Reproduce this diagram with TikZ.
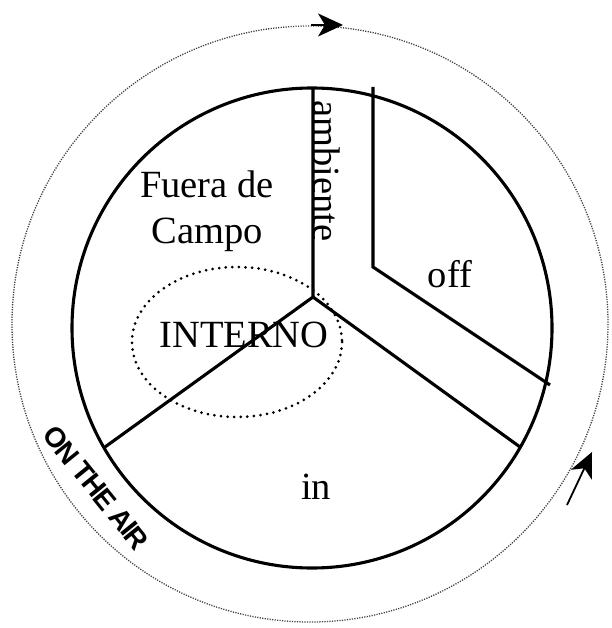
\documentclass[tikz,border=0pt]{standalone}
\usepackage{fontspec}
\setmainfont{Liberation Serif}
\newfontfamily\airfont{Liberation Sans}
\usetikzlibrary{arrows.meta}
\begin{document}
\begin{tikzpicture}[x=1pt,y=-1pt,
  solidline/.style={line width=3.1pt,line join=miter},
  label/.style={inner sep=0pt,font=\fontsize{38.5}{40}\selectfont},
  tip/.style={-{Stealth[length=25pt,width=23pt,inset=7pt]},line width=1.8pt}]
\useasboundingbox (0,0) rectangle (611,628);
% outer dotted circle
\draw[line width=1.3pt,gray!50!black,dash pattern=on 1.2pt off 1.3pt] (310,324) circle[radius=298];
% inner circle
\draw[solidline] (312,328) circle[radius=240];
% hub and segment lines
\coordinate (hub) at (313,297);
\coordinate (top) at (313,88);
\coordinate (ll) at (105,447);
\coordinate (lr) at (520,447);
\coordinate (ot) at (373,87);
\coordinate (ok) at (373,267);
\coordinate (or) at (550,385);
\draw[solidline] (top) -- (hub) -- (ll);
\draw[solidline] (hub) -- (lr);
\draw[solidline] (ot) -- (ok) -- (or);
% dotted ellipse
\draw[line width=3pt,line cap=round,dash pattern=on 0pt off 6.6pt] (237,342) ellipse[x radius=105,y radius=75];
% labels
\node[label,anchor=base] (fuera) at (207,197) {Fuera de};
\node[label,anchor=base] (campo) at (207.5,243) {Campo};
\node[label,anchor=base] (off) at (450,287) {off};
\node[label,anchor=base] (interno) at (244,347) {INTERNO};
\node[label,anchor=base] (in) at (316,499) {in};
\node[label,anchor=base west,rotate=-90] (amb) at (313,100) {ambiente};
\node[inner sep=0pt,rotate=-51,font=\airfont\bfseries\fontsize{28}{28}\selectfont] (air) at (96,488) {\addfontfeature{LetterSpace=-6}ON THE AIR};
% arrows
\coordinate (a1s) at (311,25);
\coordinate (a1e) at (343,25);
\coordinate (a2s) at (567,505);
\coordinate (a2e) at (592,452);
\draw[tip] (a1s) -- (a1e);
\draw[tip] (a2s) -- (a2e);
\end{tikzpicture}
\end{document}
